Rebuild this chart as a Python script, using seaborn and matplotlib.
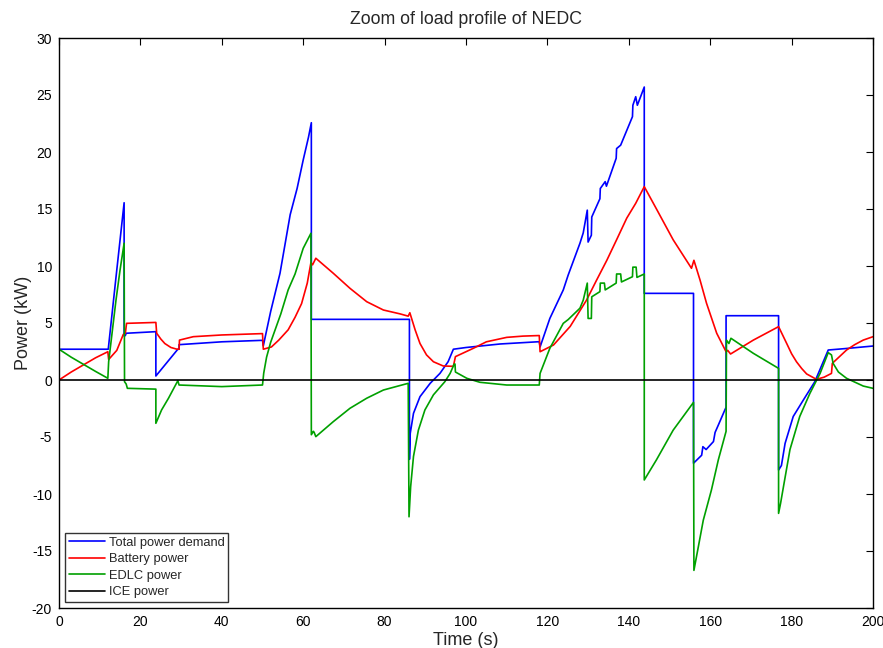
import numpy as np
import pandas as pd
import matplotlib
matplotlib.use("Agg")
import matplotlib.pyplot as plt
import seaborn as sns

# ---------------- data ----------------
t_total = [0, 12.1, 14.0, 16.0, 16.0, 16.3, 16.5, 23.8, 23.8, 29.2, 29.5, 29.5, 40, 50.0,
           50.2, 52.0, 54.3, 56.8, 58.5, 60.0, 61.3, 62.0, 62.0, 86.1, 86.1, 86.3,
           87.1, 88.7, 91.2, 93.6, 95.6, 96.9, 100, 108.4, 118.0,
           118.2, 120.6, 123.9, 125.1, 128.0, 128.8, 129.8, 130.0, 130.8, 130.9, 132.9,
           133.0, 134.2, 134.5, 136.9, 137.0, 138.0, 140.9, 141.0, 141.7, 142.1, 143.8,
           143.8, 155.9, 155.9, 157.9, 158.2, 159.0, 160.8, 161.2, 162.0, 163.6,
           163.9, 163.9, 176.8, 176.8, 177.5, 178.4, 180.4, 182.9, 185.7, 189.0, 193, 200]
p_total = [2.7, 2.7, 9.0, 15.55, 3.86, 3.9, 4.1, 4.24, 0.35, 2.7, 2.7, 3.1, 3.35, 3.48,
           3.0, 6.0, 9.36, 14.5, 16.8, 19.3, 21.3, 22.57, 5.32, 5.32, -6.96, -4.68,
           -2.92, -1.46, -0.29, 0.58, 1.6, 2.7, 2.85, 3.16, 3.36,
           2.9, 5.4, 7.9, 9.2, 12.0, 12.9, 14.9, 12.1, 12.7, 14.3, 15.9,
           16.8, 17.4, 17.0, 19.45, 20.3, 20.6, 23.1, 24.1, 24.85, 24.1, 25.7,
           7.6, 7.6, -7.3, -6.6, -5.85, -6.1, -5.4, -4.6, -3.95, -2.63,
           -2.4, 5.64, 5.64, -7.9, -7.5, -5.56, -3.2, -1.75, -0.15, 2.63, 2.75, 2.98]

t_batt = [0, 3.0, 9.0, 12.0, 12.2, 14.2, 15.8, 16.3, 16.6, 23.8, 24.0, 25.0, 26.0, 27.5, 29.0,
          29.5, 29.6, 33, 40, 50.0, 50.2, 52.2, 54.0, 56.3, 58.0, 59.6, 61.0, 61.9, 62.3,
          63.1, 67.4, 71.5, 75.6, 79.7, 83.8, 85.8, 86.2, 87.5, 88.7, 90.3, 92.0, 94.4,
          96.9, 97.4, 101.8, 105.0, 110.0, 114.0, 118.0,
          118.2, 121.5, 125.6, 129.6, 132.0, 134.6, 137.0, 139.5, 141.7, 143.8,
          146.8, 150.9, 155.4, 156.0, 157.5, 159.1, 161.6, 163.9, 164.3, 165.0, 170.6,
          176.8, 178.8, 180.0, 181.2, 182.5, 183.7, 186.1, 188.0, 189.8, 190.0, 193.5,
          195.5, 197.6, 200]
p_batt = [0, 0.7, 1.95, 2.48, 1.8, 2.6, 4.0, 4.1, 4.97, 5.05, 4.1, 3.6, 3.2, 2.85, 2.7,
          2.7, 3.5, 3.8, 3.95, 4.07, 2.7, 2.9, 3.5, 4.4, 5.5, 6.7, 8.5, 10.3, 10.1,
          10.68, 9.36, 8.04, 6.87, 6.14, 5.8, 5.6, 5.9, 4.4, 3.2, 2.2, 1.6, 1.23,
          1.2, 2.05, 2.78, 3.35, 3.74, 3.85, 3.9,
          2.48, 3.07, 4.7, 7.0, 8.7, 10.5, 12.3, 14.2, 15.5, 16.96,
          15.0, 12.3, 9.8, 10.5, 8.77, 6.73, 4.1, 2.48, 2.6, 2.28, 3.5,
          4.68, 3.2, 2.3, 1.6, 1.0, 0.53, 0.06, 0.25, 0.58, 1.46, 2.63,
          3.1, 3.5, 3.8]

t_edlc = [0, 3.0, 9.0, 12.0, 12.2, 13.0, 14.0, 15.0, 16.0, 16.1, 16.5, 16.8, 23.8, 23.8,
          25.2, 26.9, 29.2,
          29.5, 40, 50.0, 50.3, 51.0, 52.0, 53.1, 54.5, 56.3, 58.0, 60.0, 61.9,
          62.0, 62.5, 62.7, 63.1, 67.4, 71.5, 75.6, 79.7, 85.8,
          86.0, 86.4, 87.1, 88.3, 89.9, 92.0, 94.8, 96.1, 97.1, 97.3, 97.4, 100.2, 103.4,
          110.0, 118.0,
          118.2, 120.6, 123.9, 125.1, 128.0, 128.8, 129.8, 130.0, 130.8, 130.9, 132.9,
          133.0, 134.0, 134.2, 136.9, 137.0, 138.0, 138.2, 140.9, 141.0, 141.8, 142.0, 143.8,
          143.8, 146.8, 150.9, 155.9, 156.0, 157.1, 158.3, 160.3, 162.0, 163.9,
          164.0, 164.6, 165.1, 170.6, 176.8, 176.8, 177.3, 178.0, 179.6, 182.0, 184.5, 187.0,
          189.0, 189.8, 190.2, 191.5, 193.5, 197.6, 200]
p_edlc = [2.7, 2.0, 0.75, 0.15, 1.6, 4.0, 7.0, 9.65, 12.0, -0.15, -0.35, -0.73, -0.8, -3.8,
          -2.63, -1.6, -0.06,
          -0.44, -0.58, -0.44, 0.6, 2.0, 3.3, 4.4, 5.8, 7.9, 9.3, 11.55, 12.87,
          -4.8, -4.5, -4.6, -4.97, -3.65, -2.48, -1.6, -0.88, -0.29,
          -12.0, -9.36, -6.7, -4.4, -2.63, -1.3, -0.15, 0.58, 1.4, 1.4, 0.7, 0.15, -0.2,
          -0.44, -0.44,
          0.58, 2.78, 4.97, 5.3, 6.3, 7.0, 8.5, 5.4, 5.4, 7.3, 7.75,
          8.5, 8.5, 7.9, 8.5, 9.3, 9.3, 8.6, 9.06, 9.9, 9.9, 9.0, 9.3,
          -8.77, -7.0, -4.4, -1.96, -16.7, -14.6, -12.3, -9.65, -7.0, -4.5,
          3.5, 3.2, 3.66, 2.34, 1.02, -11.7, -10.8, -9.36, -6.1, -3.2, -1.17, 0.58,
          2.4, 2.2, 1.46, 0.7, 0.15, -0.53, -0.73]

t_ice = [0, 200]
p_ice = [0, 0]

series_names = ["Total power demand", "Battery power", "EDLC power", "ICE power"]
series_colors = ["#0000ff", "#ff0000", "#00a000", "#000000"]

x_ticks = [0, 20, 40, 60, 80, 100, 120, 140, 160, 180, 200]
y_ticks = [-20, -15, -10, -5, 0, 5, 10, 15, 20, 25, 30]

# ---------------- plot ----------------
sns.set_style("white")
plt.rcParams["font.family"] = ["Liberation Sans", "DejaVu Sans"]
plt.rcParams["axes.unicode_minus"] = False

fig = plt.figure(figsize=(8.83, 6.48), dpi=100)
ax = fig.add_axes([59 / 883, 40 / 648, 814 / 883, 570 / 648])

data = [(t_total, p_total), (t_batt, p_batt), (t_edlc, p_edlc), (t_ice, p_ice)]
for (tt, pp), name, col in zip(data, series_names, series_colors):
    df = pd.DataFrame({"t": tt, "p": pp})
    sns.lineplot(data=df, x="t", y="p", sort=False, estimator=None, color=col,
                 linewidth=1.2, label=name, ax=ax)

ax.set_xlim(0, 200)
ax.set_ylim(-20, 30)
ax.set_xticks(x_ticks)
ax.set_yticks(y_ticks)
ax.tick_params(direction="in", top=True, right=True, length=5, width=0.8,
               labelsize=10, colors="black", pad=5)
for s in ax.spines.values():
    s.set_visible(True)
    s.set_color("black")
    s.set_linewidth(1.0)

ax.set_title("Zoom of load profile of NEDC", fontsize=12.8, pad=10)
ax.set_xlabel("Time (s)", fontsize=13, labelpad=2)
ax.set_ylabel("Power (kW)", fontsize=13, labelpad=0)

leg = ax.legend(loc="lower left", fontsize=9.3, frameon=True, fancybox=False,
                edgecolor="black", borderpad=0.3, labelspacing=0.35,
                handlelength=2.8, handletextpad=0.3, borderaxespad=0.45)
leg.get_frame().set_linewidth(1.0)

fig.savefig("out.png", dpi=100, facecolor="white")
